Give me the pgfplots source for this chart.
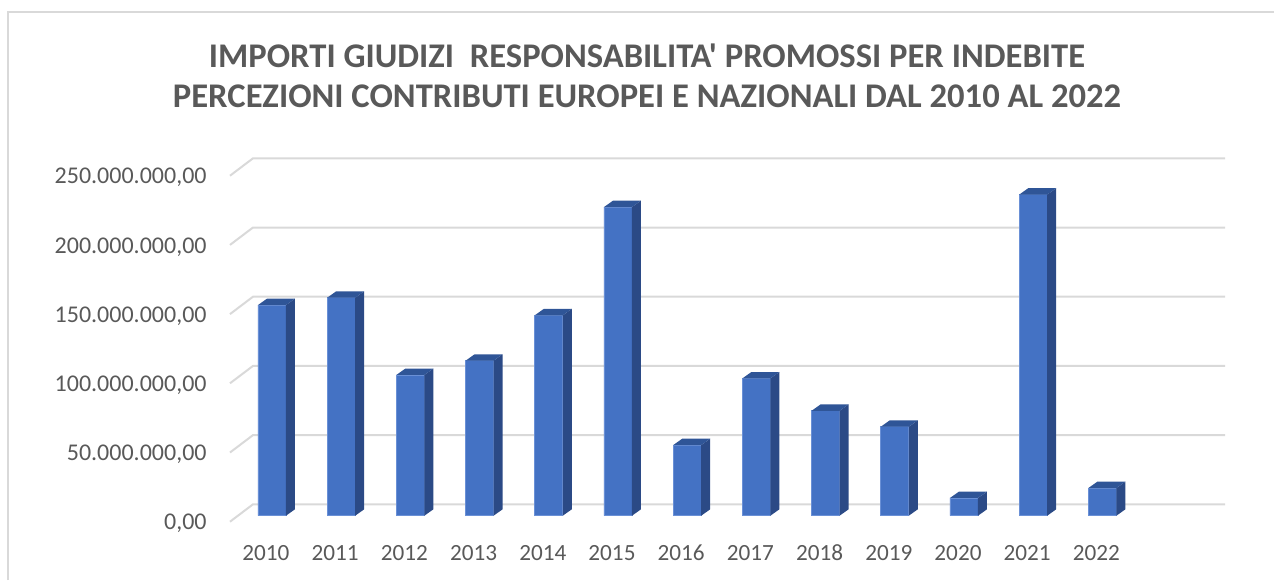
\documentclass[border=0pt]{standalone}
\usepackage{pgfplots}
\usepackage{pgfplotstable}
\pgfplotsset{compat=1.18}
\usepackage{fontspec}
\setmainfont{Carlito}
\newfontfamily\carlito{Carlito}
\definecolor{frontcol}{HTML}{4472C4}
\definecolor{sidecol}{HTML}{2B4A86}
\definecolor{topcol}{HTML}{2F5597}
\definecolor{edgecol}{HTML}{6A90D6}
\definecolor{gridcol}{HTML}{D9D9D9}
\definecolor{txtcol}{HTML}{595959}

\pgfplotstableread{
x v
0 152.2
1 157.5
2 101.7
3 112
4 144.8
5 223
6 51
7 99.2
8 75.8
9 64.3
10 12.8
11 232
12 20
}\data

\pgfdeclareplotmark{box3d}{%
  \pgfmathsetmacro{\hh}{\ry*0.692}%
  \pgfpathmoveto{\pgfqpoint{7pt}{0pt}}%
  \pgfpathlineto{\pgfqpoint{11.5pt}{3.2pt}}%
  \pgfpathlineto{\pgfpoint{11.5pt}{3.2pt-\hh pt}}%
  \pgfpathlineto{\pgfpoint{7pt}{-\hh pt}}%
  \pgfpathclose
  \pgfsetfillcolor{sidecol}\pgfusepath{fill}%
  \pgfpathmoveto{\pgfqpoint{-7pt}{0pt}}%
  \pgfpathlineto{\pgfqpoint{7pt}{0pt}}%
  \pgfpathlineto{\pgfqpoint{11.5pt}{3.2pt}}%
  \pgfpathlineto{\pgfqpoint{-2.5pt}{3.2pt}}%
  \pgfpathclose
  \pgfsetfillcolor{topcol}\pgfusepath{fill}%
}

\begin{document}
\begin{tikzpicture}
\begin{axis}[
  at={(0,0)}, anchor=south west,
  scale only axis, width=486pt, height=173pt,
  xmin=-0.491, xmax=13.555, ymin=0, ymax=250,
  clip=false,
  axis line style={draw=none},
  tick style={draw=none},
  major tick length=0pt,
  xtick={0,...,12},
  xticklabels={2010,2011,2012,2013,2014,2015,2016,2017,2018,2019,2020,2021,2022},
  ytick={0,50,100,150,200,250},
  yticklabels={{0,00},{50.000.000,00},{100.000.000,00},{150.000.000,00},{200.000.000,00},{250.000.000,00}},
  xticklabel style={font=\carlito\fontsize{11.6}{13}\selectfont, text=txtcol, anchor=center, inner sep=0pt, yshift=-18.6pt, xshift=-3pt},
  yticklabel style={font=\carlito\fontsize{12}{14}\selectfont, text=txtcol, anchor=east, inner sep=0pt, xshift=-15.5pt, yshift=-4pt},
]
\pgfplotsinvokeforeach{0,50,100,150,200,250}{
  \draw[gridcol, line width=1pt]
    ([xshift=-4pt,yshift=-3pt]axis cs:-0.491,#1) --
    ([xshift=7.5pt,yshift=5.7pt]axis cs:-0.491,#1) --
    ([xshift=7.5pt,yshift=5.7pt]axis cs:13.555,#1);
}
\addplot[ybar, bar width=14pt, fill=frontcol, draw=edgecol, line width=0.4pt] table[x=x, y=v] {\data};
\addplot[scatter, only marks, mark=box3d,
  visualization depends on={\thisrow{v} \as \ry}] table[x=x, y=v] {\data};
\end{axis}
\node[anchor=base, font=\carlito\bfseries\fontsize{17.3}{20}\selectfont, text=txtcol]
  at (204.5pt,224.3pt) {IMPORTI GIUDIZI\ \ RESPONSABILITA' PROMOSSI PER INDEBITE};
\node[anchor=base, font=\carlito\bfseries\fontsize{17.3}{20}\selectfont, text=txtcol]
  at (204.5pt,204.3pt) {PERCEZIONI CONTRIBUTI EUROPEI E NAZIONALI DAL 2010 AL 2022};
\draw[gridcol, line width=1pt] (-114.85pt,-32.15pt) -- (-114.85pt,252pt) -- (518pt,252pt);
\pgfresetboundingbox
\useasboundingbox (-119pt,-32.15pt) rectangle (518pt,257.85pt);
\end{tikzpicture}
\end{document}
